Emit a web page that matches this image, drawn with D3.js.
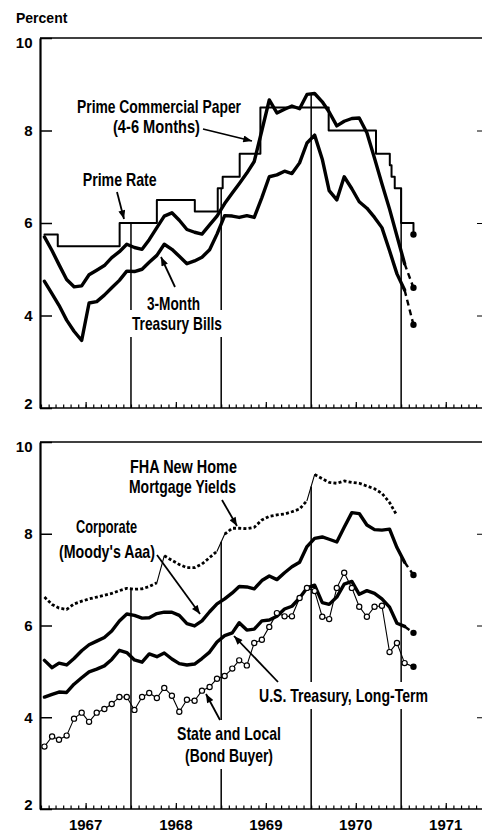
<!DOCTYPE html>
<html lang="en">
<head>
<meta charset="utf-8">
<title>Short- and long-term interest rates, 1967-1971</title>
<script src="https://cdn.jsdelivr.net/npm/d3@7"></script>
<style>
  body { margin: 0; background: #fff; }
  svg { display: block; }
  .axis text, .year { font-family: "Liberation Sans", Arial, sans-serif; font-weight: bold; font-size: 15px; fill: #000; }
  .note { font-family: "Liberation Sans Narrow", "Liberation Sans", Arial, sans-serif; font-weight: bold; font-size: 19px; }
  .unit { font-family: "Liberation Sans", Arial, sans-serif; font-weight: bold; font-size: 14px; }
</style>
</head>
<body>
<script>
// ---- data: monthly averages from Jan 1967 ----
var years = [1967, 1968, 1969, 1970, 1971];
var yTicks = [2, 4, 6, 8, 10];

var commercialPaper = [
  5.70, 5.40, 5.10, 4.78, 4.62, 4.64, 4.88, 4.98, 5.08, 5.25, 5.38, 5.54,
  5.47, 5.43, 5.64, 5.90, 6.15, 6.22, 6.06, 5.86, 5.80, 5.76, 5.96, 6.15,
  6.42, 6.65, 6.85, 7.08, 7.33, 8.00, 8.66, 8.38, 8.46, 8.53, 8.47, 8.78,
  8.80, 8.62, 8.40, 8.10, 8.20, 8.26, 8.27, 7.95, 7.40, 6.85, 6.30, 5.72,
  5.12];
var billRate = [
  4.74, 4.47, 4.22, 3.90, 3.66, 3.46, 4.27, 4.30, 4.44, 4.60, 4.76, 4.96,
  4.95, 5.00, 5.15, 5.30, 5.54, 5.43, 5.28, 5.12, 5.18, 5.26, 5.42, 5.76,
  6.16, 6.15, 6.12, 6.16, 6.12, 6.55, 7.00, 7.04, 7.12, 7.07, 7.30, 7.73,
  7.90, 7.38, 6.70, 6.50, 7.00, 6.74, 6.46, 6.32, 6.12, 5.90, 5.40, 4.90,
  4.55];
var corporateAaa = [
  5.24, 5.08, 5.18, 5.14, 5.28, 5.45, 5.58, 5.66, 5.74, 5.88, 6.10, 6.25,
  6.22, 6.16, 6.17, 6.26, 6.29, 6.29, 6.22, 6.04, 5.99, 6.10, 6.30, 6.47,
  6.58, 6.71, 6.85, 6.84, 6.80, 6.98, 7.08, 7.00, 7.15, 7.28, 7.38, 7.72,
  7.90, 7.93, 7.88, 7.82, 8.14, 8.46, 8.44, 8.19, 8.09, 8.08, 8.10, 7.70,
  7.38];
var treasuryLong = [
  4.44, 4.50, 4.55, 4.54, 4.72, 4.86, 4.99, 5.05, 5.12, 5.26, 5.46, 5.41,
  5.25, 5.20, 5.38, 5.32, 5.40, 5.27, 5.17, 5.14, 5.16, 5.28, 5.42, 5.64,
  5.78, 5.84, 6.06, 5.90, 5.92, 6.10, 6.12, 6.20, 6.36, 6.42, 6.60, 6.82,
  6.88, 6.50, 6.46, 6.62, 6.90, 6.96, 6.68, 6.76, 6.70, 6.58, 6.40, 6.05,
  5.98];
var stateLocal = [
  3.36, 3.58, 3.51, 3.60, 3.97, 4.10, 3.90, 4.10, 4.18, 4.29, 4.44, 4.44,
  4.16, 4.44, 4.53, 4.42, 4.64, 4.47, 4.12, 4.38, 4.36, 4.58, 4.66, 4.84,
  4.90, 5.06, 5.24, 5.13, 5.62, 5.69, 5.97, 6.27, 6.20, 6.20, 6.60, 6.82,
  6.75, 6.19, 6.14, 6.82, 7.15, 6.82, 6.41, 6.19, 6.41, 6.43, 5.42, 5.62,
  5.18];
var fhaYield = [
  6.62, 6.46, 6.38, 6.35, 6.47, 6.53, 6.58, 6.62, 6.66, 6.70, 6.76, 6.81,
  6.79, 6.80, 6.85, 6.93, 7.52, 7.42, 7.33, 7.26, 7.26, 7.34, 7.48, 7.62,
  7.99, 8.12, 8.12, 8.11, 8.14, 8.30, 8.38, 8.41, 8.43, 8.48, 8.54, 8.72,
  9.29, 9.20, 9.12, 9.10, 9.15, 9.12, 9.10, 9.04, 8.98, 8.88, 8.68, 8.40];

// prime rate: [year, month, day, new rate]
var primeRate = [
  [1967, 0, 15, 5.75], [1967, 2, 10, 5.5], [1967, 10, 16, 6.0],
  [1968, 3, 15, 6.5], [1968, 8, 16, 6.25], [1968, 11, 18, 6.75],
  [1969, 0, 7, 7.0], [1969, 2, 17, 7.5], [1969, 5, 9, 8.5],
  [1970, 2, 13, 8.0], [1970, 8, 21, 7.5], [1970, 10, 16, 7.25],
  [1970, 10, 23, 7.0], [1970, 11, 6, 6.75], [1971, 0, 1, 6.0],
  [1971, 1, 20, 5.75]];

// latest weekly figures
var latestDay = [1971, 1, 20];
var latestCP = 4.60, latestBill = 3.80, latestCorp = 7.10, latestTreas = 5.84, latestMuni = 5.10;

// ---- layout ----
var svg = d3.select("body").append("svg").attr("width", 482).attr("height", 833);

var x = d3.scaleTime()
  .domain([new Date(1967, 0, 1), new Date(1971, 10, 25)])
  .range([41, 482]);
var yTop = d3.scaleLinear().domain([2, 10]).range([408, 38]);
var yBot = d3.scaleLinear().domain([2, 10]).range([809, 442]);
var latestDate = new Date(latestDay[0], latestDay[1], latestDay[2]);

function monthly(values) {
  return values.map(function(v, i) { return {date: new Date(1967, i, 15), value: v}; });
}
function pts(series, y) {
  return series.map(function(d) { return [x(d.date), y(d.value)]; });
}
// pixel y of a polyline at a given pixel x (null outside)
function yAt(p, xv) {
  for (var i = 1; i < p.length; i++) {
    if (p[i - 1][0] <= xv && xv <= p[i][0]) {
      var t = (xv - p[i - 1][0]) / (p[i][0] - p[i - 1][0]);
      return p[i - 1][1] + t * (p[i][1] - p[i - 1][1]);
    }
  }
  return null;
}

function drawFrame(y) {
  var g = svg.append("g").attr("class", "axis");
  var y0 = y.range()[0], y1 = y.range()[1];
  g.append("g").attr("transform", "translate(0," + y0 + ")")
    .call(d3.axisTop(x).ticks(d3.timeMonth.every(1)).tickSize(3.5).tickFormat(""))
    .call(function(s) { s.select(".domain").remove(); });
  g.append("g").attr("transform", "translate(0," + y0 + ")")
    .call(d3.axisTop(x).tickValues(years.map(function(v) { return new Date(v, 6, 1); }))
      .tickSize(6).tickFormat(""))
    .call(function(s) { s.select(".domain").remove(); });
  g.selectAll(".tick line").attr("stroke-width", 1.2);
  g.append("line").attr("x1", 40).attr("x2", 482).attr("y1", y0).attr("y2", y0)
    .attr("stroke", "#000").attr("stroke-width", 1.6);
  g.append("line").attr("x1", 40).attr("x2", 482).attr("y1", y1).attr("y2", y1)
    .attr("stroke", "#000").attr("stroke-width", 1.6);

  var left = g.append("g").attr("transform", "translate(40,0)")
    .call(d3.axisLeft(y).tickValues(yTicks).tickSizeInner(-12).tickSizeOuter(0).tickPadding(7.5));
  left.select(".domain").attr("stroke-width", 2.2);
  left.selectAll(".tick line").attr("stroke-width", 1.5);
  left.selectAll(".tick text").attr("y", function(d) { return d === 10 ? 5 : d === 2 ? -4 : 0; });

  g.append("g").attr("transform", "translate(482,0)")
    .call(d3.axisLeft(y).tickValues([4, 6, 8]).tickSize(5).tickFormat(""))
    .call(function(s) { s.select(".domain").remove(); });
  return g;
}

function yearLines(y, tops) {
  years.slice(1).forEach(function(yr) {
    var xv = x(new Date(yr, 0, 1));
    var top = d3.min(tops.map(function(p) { return yAt(p, xv); }).filter(function(v) { return v !== null; }));
    svg.append("line").attr("x1", xv).attr("x2", xv).attr("y1", y.range()[0]).attr("y2", top)
      .attr("stroke", "#000").attr("stroke-width", 1.5);
  });
}

var line = d3.line();
function thick(p, w, dash) {
  var s = svg.append("path").attr("d", line(p)).attr("fill", "none").attr("stroke", "#000")
    .attr("stroke-width", w).attr("stroke-linejoin", "round").attr("stroke-linecap", dash ? "butt" : "round");
  if (dash) s.attr("stroke-dasharray", dash);
  return s;
}
function dot(p, r) {
  svg.append("circle").attr("cx", p[0]).attr("cy", p[1]).attr("r", r).attr("fill", "#000");
}

// ---- annotation layers ----
var notesTop = [
  ["Prime Commercial Paper", 159, 113, 164], ["(4-6 Months)", 156.5, 133, 87],
  ["Prime Rate", 119.7, 186, 74],
  ["3-Month", 173.5, 310, 53], ["Treasury Bills", 177, 330, 90]];
var notesBot = [
  ["FHA New Home", 183.5, 473, 107], ["Mortgage Yields", 182.5, 493, 107],
  ["Corporate", 106.5, 533, 61], ["(Moody's Aaa)", 107, 558, 96],
  ["U.S. Treasury, Long-Term", 343.5, 702, 169],
  ["State and Local", 229, 740, 104], ["(Bond Buyer)", 229, 762, 88]];
var arrows = [
  [203, 129, 252, 141], [117, 192, 124, 219], [175, 287, 161, 257],
  [222, 500, 237, 526], [157, 555, 200, 614], [278, 682, 234, 636], [220, 720, 206, 694]];

svg.append("defs").append("marker").attr("id", "head")
  .attr("viewBox", "0 0 10 8").attr("refX", 10).attr("refY", 4)
  .attr("markerWidth", 10).attr("markerHeight", 7).attr("markerUnits", "userSpaceOnUse")
  .attr("orient", "auto")
  .append("path").attr("d", "M0,0L10,4L0,8Z").attr("fill", "#000");

// ---- top panel ----
drawFrame(yTop);
var cp = pts(monthly(commercialPaper), yTop);
var bill = pts(monthly(billRate), yTop);
var primePts = primeRate.map(function(d) { return [x(new Date(d[0], d[1], d[2])), yTop(d[3])]; });
var primeStep = [];
primePts.forEach(function(p, i) {
  if (i > 0) primeStep.push([p[0], primePts[i - 1][1]]);
  primeStep.push(p);
});
yearLines(yTop, [cp, bill, primeStep]);

// ---- bottom panel ----
drawFrame(yBot);
var fha = pts(monthly(fhaYield), yBot);
var corp = pts(monthly(corporateAaa), yBot);
var treas = pts(monthly(treasuryLong), yBot);
var muni = pts(monthly(stateLocal), yBot);
yearLines(yBot, [fha, corp, treas]);

// white boxes behind the labels
var bg = svg.append("g");
var noteG = svg.append("g");
notesTop.concat(notesBot).forEach(function(n) {
  var t = noteG.append("text").attr("class", "note").attr("x", n[1]).attr("y", n[2])
    .attr("text-anchor", "middle").attr("textLength", n[3]).attr("lengthAdjust", "spacingAndGlyphs")
    .text(n[0]);
  var b = t.node().getBBox();
  bg.append("rect").attr("x", b.x - 2).attr("y", b.y - 3).attr("width", b.width + 4)
    .attr("height", b.height + 6).attr("fill", "#fff");
});

// series
thick(primeStep, 2);
dot(primePts[primePts.length - 1], 3.2);
thick(cp, 3.4);
thick([cp[cp.length - 1], [x(latestDate), yTop(latestCP)]], 2.4, "6,4");
dot([x(latestDate), yTop(latestCP)], 3.2);
thick(bill, 3.4);
thick([bill[bill.length - 1], [x(latestDate), yTop(latestBill)]], 2.4, "6,4");
dot([x(latestDate), yTop(latestBill)], 3.2);

// FHA: dotted, with thin solid strokes across the big jumps
var run = [fha[0]];
for (var i = 1; i < fha.length; i++) {
  if (Math.abs(fhaYield[i] - fhaYield[i - 1]) > 0.3) {
    thick(run, 2.8, "3,2.2");
    thick([fha[i - 1], fha[i]], 1.1);
    run = [fha[i]];
  } else {
    run.push(fha[i]);
  }
}
thick(run, 2.8, "3,2.2");

thick(corp, 3.4);
thick([corp[corp.length - 1], [x(latestDate), yBot(latestCorp)]], 2.4, "6,4");
dot([x(latestDate), yBot(latestCorp)], 3.2);
thick(treas, 3.4);
thick([treas[treas.length - 1], [x(latestDate), yBot(latestTreas)]], 2.4, "6,4");
dot([x(latestDate), yBot(latestTreas)], 3.2);
thick(muni.concat([[x(latestDate), yBot(latestMuni)]]), 1.1);
svg.append("g").selectAll("circle").data(muni).join("circle")
  .attr("cx", function(d) { return d[0]; }).attr("cy", function(d) { return d[1]; })
  .attr("r", 2.6).attr("fill", "#fff").attr("stroke", "#000").attr("stroke-width", 1.2);
dot([x(latestDate), yBot(latestMuni)], 3.2);

// arrows
svg.append("g").selectAll("line").data(arrows).join("line")
  .attr("x1", function(d) { return d[0]; }).attr("y1", function(d) { return d[1]; })
  .attr("x2", function(d) { return d[2]; }).attr("y2", function(d) { return d[3]; })
  .attr("stroke", "#000").attr("stroke-width", 1.8).attr("marker-end", "url(#head)");

noteG.raise();

// year labels and unit
svg.append("g").selectAll("text").data(years).join("text").attr("class", "year")
  .attr("x", function(d) { return x(new Date(d, 6, 1)); }).attr("y", 830)
  .attr("text-anchor", "middle").text(function(d) { return d; });
svg.append("text").attr("class", "unit").attr("x", 16).attr("y", 23).text("Percent");
</script>
</body>
</html>
